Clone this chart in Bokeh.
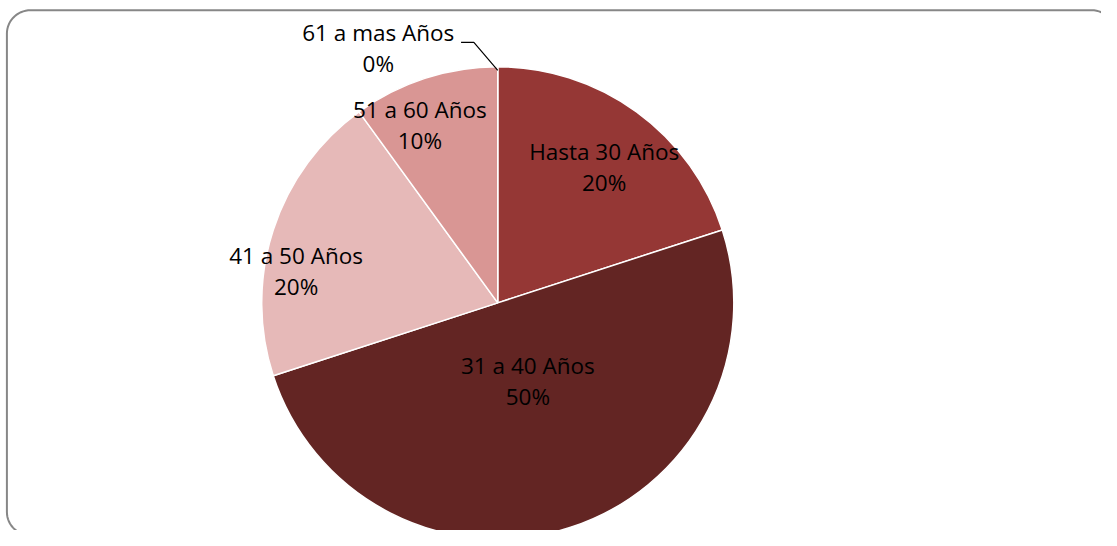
import numpy as np
from bokeh.plotting import figure
from bokeh.models import Range1d, ColumnDataSource
from bokeh.core.properties import value
from bokeh.embed import file_html
from bokeh.resources import INLINE

# ---- data ----
categories = ["Hasta 30 Años", "31 a 40 Años", "41 a 50 Años", "51 a 60 Años", "61 a mas Años"]
shares = [20, 50, 20, 10, 0]
pct_labels = ["20%", "50%", "20%", "10%", "0%"]

# ---- styles / layout ----
colors = ["#953735", "#632523", "#E6B9B8", "#D99694", "#F2DCDB"]
label_frac = [0.737, 0.36, 0.865, 0.834, 1.207]       # label distance / radius
label_shift = [1.7, -2.75, -9.0, -5.3, -24.8]          # degrees added to slice mid-angle
FONT = "Open Sans"
FS = "22.5px"

W, H = 1101, 530
REF_W, REF_H = 1117, 546
p = figure(width=W, height=H, x_range=Range1d(0, REF_W), y_range=Range1d(0, REF_H),
           x_axis_type=None, y_axis_type=None, toolbar_location=None,
           output_backend="svg", min_border=0)
p.outline_line_color = None
p.grid.visible = False
p.background_fill_color = "white"
p.border_fill_color = "white"

# rounded chart frame, drawn as a path so it is clipped (data y = REF_H - reference y)
def rounded_rect(l, r, t, b, rad, n=16):
    xs, ys = [], []
    corners = [(r - rad, t - rad, 0, 90), (l + rad, t - rad, 90, 180),
               (l + rad, b + rad, 180, 270), (r - rad, b + rad, 270, 360)]
    for ccx, ccy, a0, a1 in corners:
        for a in np.linspace(np.deg2rad(a0), np.deg2rad(a1), n):
            xs.append(ccx + rad * np.cos(a))
            ys.append(ccy + rad * np.sin(a))
    xs.append(xs[0]); ys.append(ys[0])
    return xs, ys

fx, fy = rounded_rect(6.5, 1131, REF_H - 10, REF_H - 551, 24)
p.line(fx, fy, line_color="#878787", line_width=2)

cx, cy, R = 504.5, REF_H - 311.5, 239.5

total = float(sum(shares))
fr = np.array(shares) / total
ends = np.cumsum(fr) * 2 * np.pi
starts = ends - fr * 2 * np.pi
mids = (starts + ends) / 2

keep = [i for i in range(len(shares)) if shares[i] > 0]
src = ColumnDataSource(dict(
    start=[np.pi / 2 - starts[i] for i in keep],
    end=[np.pi / 2 - ends[i] for i in keep],
    color=[colors[i] for i in keep],
))
p.wedge(x=cx, y=cy, radius=R, start_angle="start", end_angle="end", direction="clock",
        fill_color="color", line_color="white", line_width=1.5, source=src)

# labels
lx, ly = [], []
for i in range(len(shares)):
    th = mids[i] + np.deg2rad(label_shift[i])
    r = label_frac[i] * R
    lx.append(cx + r * np.sin(th))
    ly.append(cy + r * np.cos(th))

ls = ColumnDataSource(dict(x=lx, y1=[y + 16 for y in ly], y2=[y - 16 for y in ly],
                           name=categories, pct=pct_labels))
p.text(x="x", y="y1", text="name", source=ls, text_align="center", text_baseline="middle",
       text_font=value(FONT), text_font_size=FS, text_color="#000000")
p.text(x="x", y="y2", text="pct", source=ls, text_align="center", text_baseline="middle",
       text_font=value(FONT), text_font_size=FS, text_color="#000000")

# leader line for the zero slice
i0 = 4
ex, ey = cx + R * np.sin(mids[i0]), cy + R * np.cos(mids[i0])
sx, sy = lx[i0] + 84, ly[i0] + 6
p.line([sx, sx + 13, ex], [sy, sy, ey], line_color="black", line_width=1.2)

open("out.html", "w").write(file_html(p, INLINE))
